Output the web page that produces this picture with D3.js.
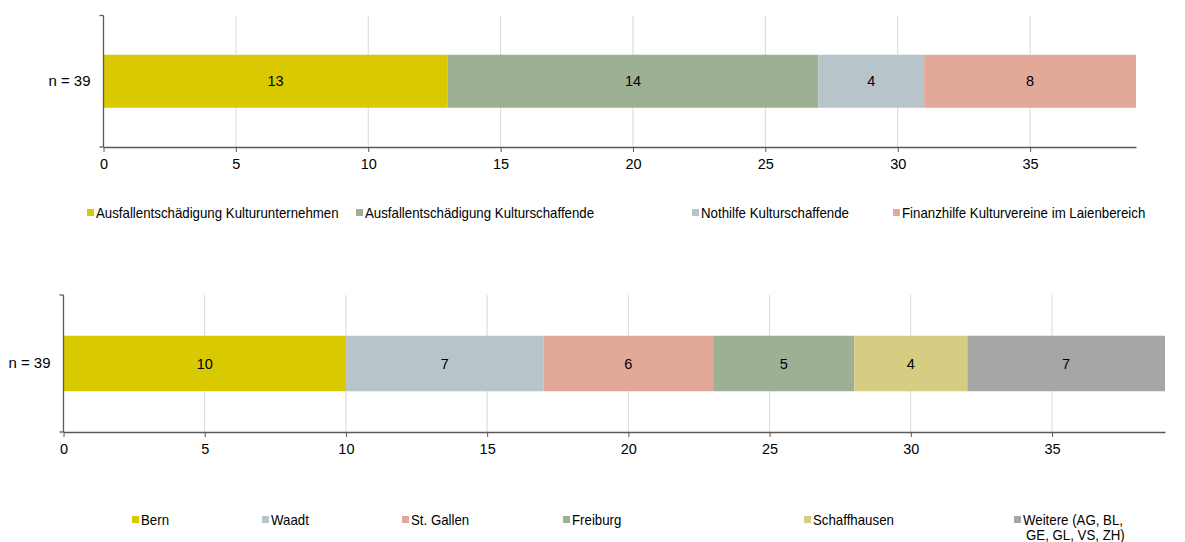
<!DOCTYPE html>
<html>
<head>
<meta charset="utf-8">
<script src="https://cdn.jsdelivr.net/npm/d3@7"></script>
<style>
  html, body { margin: 0; padding: 0; background: #fff; }
  svg { display: block; font-family: "Liberation Sans", Arial, sans-serif; }
</style>
</head>
<body>
<svg id="chart" width="1185" height="542"></svg>
<script>
// Programme (top chart)
const programmeNames = [
  "Ausfallentschädigung Kulturunternehmen",
  "Ausfallentschädigung Kulturschaffende",
  "Nothilfe Kulturschaffende",
  "Finanzhilfe Kulturvereine im Laienbereich"
];
const programmeValues = [13, 14, 4, 8];
const programmeColors = ["#d9c900", "#9db094", "#b7c5ca", "#e2a898"];

// Kantone (bottom chart)
const cantonNames = ["Bern", "Waadt", "St. Gallen", "Freiburg", "Schaffhausen", "Weitere (AG, BL,\nGE, GL, VS, ZH)"];
const cantonValues = [10, 7, 6, 5, 4, 7];
const cantonColors = ["#d9c900", "#b7c5ca", "#e2a898", "#9db094", "#d6cd83", "#a6a6a6"];

const categoryLabel = "n = 39";
const axisTicks = [0, 5, 10, 15, 20, 25, 30, 35];
const axisMax = 39;

const FONT = "Liberation Sans, Arial, sans-serif";
const svg = d3.select("#chart");

function drawPanel(cfg) {
  const { values, colors, x0, x1, yTop, yBottom, barTop, barBottom, labelX } = cfg;
  const g = svg.append("g");
  const x = d3.scaleLinear().domain([0, axisMax]).range([x0, x1]);
  const y = d3.scaleBand().domain([categoryLabel]).range([yTop, yBottom])
    .paddingInner(0).paddingOuter((yBottom - yTop - (barBottom - barTop)) / 2 / (barBottom - barTop));

  // vertical gridlines
  g.selectAll("line.grid").data(axisTicks.filter(t => t > 0)).join("line")
    .attr("x1", d => x(d)).attr("x2", d => x(d))
    .attr("y1", yTop).attr("y2", yBottom)
    .attr("stroke", "#d9d9d9").attr("stroke-width", 1);

  // stacked segments
  const stacks = [];
  let acc = 0;
  values.forEach((v, i) => { stacks.push({ start: acc, end: acc + v, v, c: colors[i] }); acc += v; });

  g.selectAll("rect.seg").data(stacks).join("rect")
    .attr("x", d => x(d.start)).attr("width", d => x(d.end) - x(d.start))
    .attr("y", y(categoryLabel)).attr("height", y.bandwidth())
    .attr("fill", d => d.c);

  g.selectAll("text.val").data(stacks).join("text")
    .attr("x", d => (x(d.start) + x(d.end)) / 2)
    .attr("y", y(categoryLabel) + y.bandwidth() / 2)
    .attr("dy", "0.36em")
    .attr("text-anchor", "middle")
    .attr("font-size", 14.5).attr("fill", "#000")
    .text(d => d.v);

  // x axis
  const xAxis = d3.axisBottom(x).tickValues(axisTicks).tickSize(5).tickPadding(7).tickSizeOuter(0);
  const ax = g.append("g").attr("transform", `translate(0,${yBottom})`).call(xAxis);
  ax.select(".domain").attr("stroke", "#595959").attr("stroke-width", 1.3);
  ax.selectAll(".tick line").attr("stroke", "#595959");
  ax.selectAll(".tick text").attr("font-size", 14.5).attr("fill", "#000").attr("font-family", FONT);

  // y axis
  const yAxis = d3.axisLeft(y).tickSize(0).tickPadding(labelX);
  const ay = g.append("g").attr("transform", `translate(${x0},0)`).call(yAxis);
  ay.select(".domain").remove();
  ay.selectAll(".tick text").attr("font-size", 15).attr("fill", "#000").attr("font-family", FONT);
  g.append("line").attr("x1", x0).attr("x2", x0).attr("y1", yTop).attr("y2", yBottom)
    .attr("stroke", "#595959").attr("stroke-width", 1.3);
  [yTop, yBottom].forEach(yy => g.append("line")
    .attr("x1", x0 - 4).attr("x2", x0).attr("y1", yy).attr("y2", yy)
    .attr("stroke", "#595959").attr("stroke-width", 1.3));
}

// Legend text is set slightly condensed (narrower glyphs at a taller size)
function drawLegend(names, colors, xs, yText) {
  const lg = svg.append("g");
  names.forEach((n, i) => {
    lg.append("rect").attr("x", xs[i]).attr("y", yText - 9).attr("width", 7).attr("height", 7)
      .attr("fill", colors[i]);
    const lines = n.split("\n");
    const t = lg.append("text").attr("x", xs[i] + 9).attr("y", yText)
      .attr("font-size", 14.2).attr("fill", "#000");
    lines.forEach((ln, k) => {
      const ts = t.append("tspan").attr("x", xs[i] + 9 + (k > 0 ? 3 : 0))
        .attr("dy", k === 0 ? 0 : 15).text(ln);
      const w = ts.node().getComputedTextLength();
      ts.attr("textLength", w * 0.935).attr("lengthAdjust", "spacingAndGlyphs");
    });
  });
}

drawPanel({
  values: programmeValues, colors: programmeColors,
  x0: 103.5, x1: 1136, yTop: 15.5, yBottom: 147, barTop: 55, barBottom: 108, labelX: 13
});
drawLegend(programmeNames, programmeColors, [87, 356, 692, 893], 218);

drawPanel({
  values: cantonValues, colors: cantonColors,
  x0: 63.5, x1: 1165, yTop: 295, yBottom: 432, barTop: 336, barBottom: 391.5, labelX: 13
});
drawLegend(cantonNames, cantonColors, [132, 262, 402, 563, 804, 1014], 525);
</script>
</body>
</html>
